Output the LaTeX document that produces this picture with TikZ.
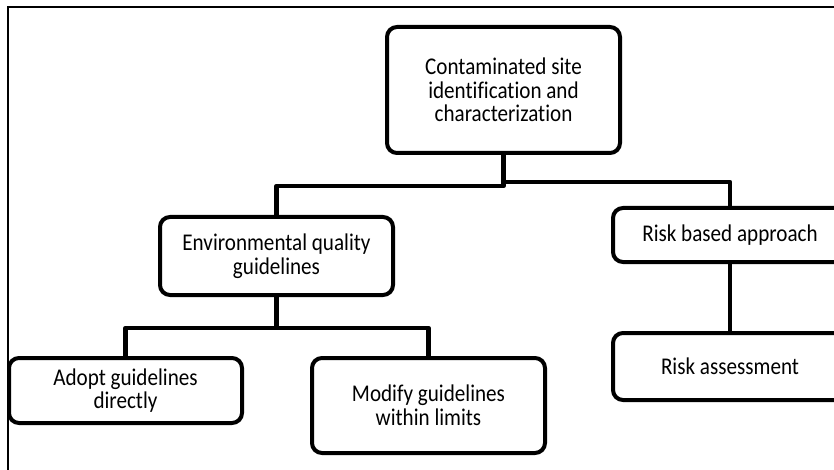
\documentclass[tikz,border=0pt]{standalone}
\usepackage{fontspec}
\setmainfont{Carlito}[FakeStretch=0.88,Ligatures=NoCommon]
\begin{document}
\begin{tikzpicture}[x=1pt,y=-1pt,
    box/.style={draw,line width=4pt,rounded corners=10pt,align=center,inner sep=0pt,
        minimum width=233pt,font=\fontsize{24}{23.5}\selectfont},
    link/.style={line width=4.5pt,line join=round}]
\useasboundingbox (0,0) rectangle (834,470);
\clip (0,0) rectangle (834,470);
%Frame round the chart (only top and left show)
    \draw[line width=2pt] (8,470) -- (8,7) -- (834,7);
%Boxes
    \node[box,minimum height=126pt] (site) at (503.5,90) {Contaminated site\\identification and\\characterization};
    \node[box,minimum height=78pt] (env) at (276.5,256) {Environmental quality\\guidelines};
    \node[box,minimum height=65pt] (adopt) at (125.5,390.5) {Adopt guidelines\\directly};
    \node[box,minimum height=95pt] (modify) at (428.5,405.5) {Modify guidelines\\within limits};
    \node[box,minimum height=54pt,minimum width=234pt] (risk) at (730,235) {Risk based approach};
    \node[box,minimum height=67pt,minimum width=234pt] (assess) at (730,366.5) {Risk assessment};
%Connectors
    \draw[link] (site.south) -- ++(0,31) -| (env.north);
    \draw[link] (site.south) -- ++(0,27) -| (risk.north);
    \draw[link] (env.south) -- ++(0,31) -| (adopt.north);
    \draw[link] (env.south) -- ++(0,31) -| (modify.north);
    \draw[link] (risk.south) -- (assess.north);
\end{tikzpicture}
\end{document}
